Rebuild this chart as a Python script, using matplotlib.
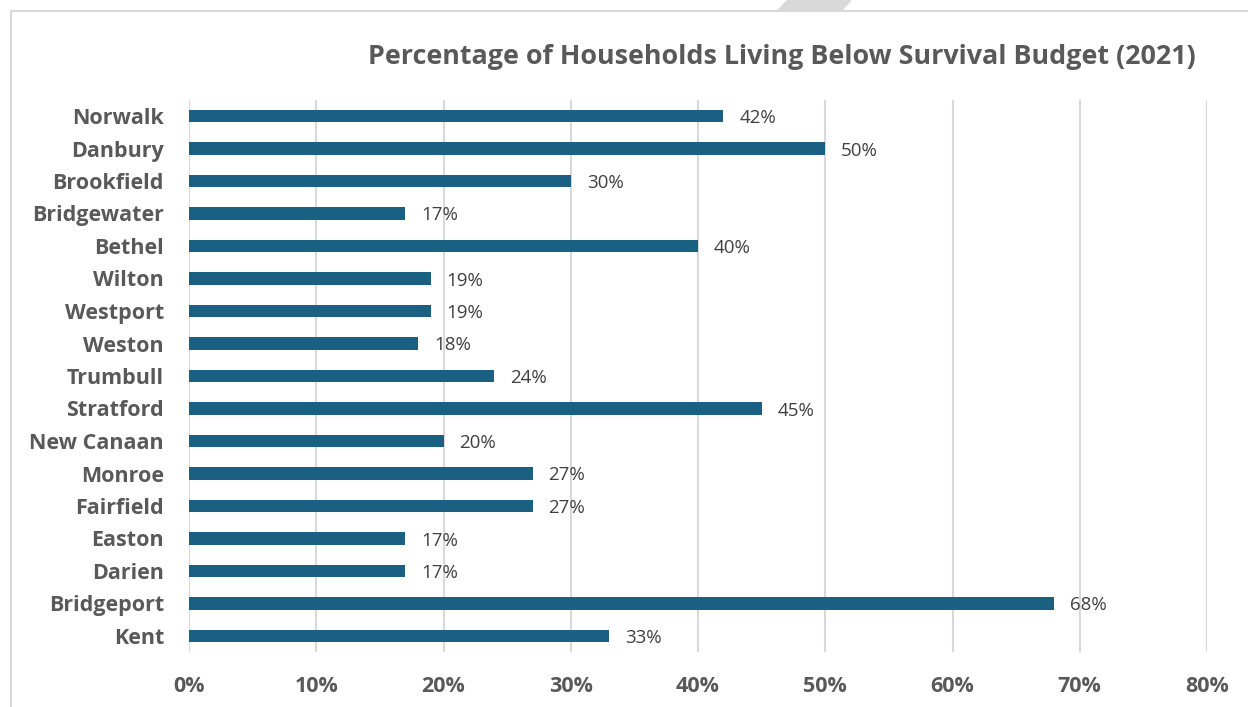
import matplotlib
matplotlib.use("Agg")
import matplotlib.pyplot as plt
from matplotlib.patches import Polygon, Rectangle
from matplotlib.ticker import FuncFormatter, MultipleLocator

towns = ["Norwalk", "Danbury", "Brookfield", "Bridgewater", "Bethel", "Wilton",
         "Westport", "Weston", "Trumbull", "Stratford", "New Canaan", "Monroe",
         "Fairfield", "Easton", "Darien", "Bridgeport", "Kent"]
pct = [42, 50, 30, 17, 40, 19, 19, 18, 24, 45, 20, 27, 27, 17, 17, 68, 33]
title = "Percentage of Households Living Below Survival Budget (2021)"

plt.rcParams['font.family'] = ['Open Sans', 'DejaVu Sans']
W, H = 1248, 707
fig = plt.figure(figsize=(W / 100, H / 100), dpi=100)

# border and top decoration
fig.patches.append(Rectangle((11 / W, -0.1), 1.2, (H - 11) / H + 0.1,
                             transform=fig.transFigure, fill=False,
                             edgecolor='#d9d9d9', linewidth=1.5))
fig.patches.append(Polygon([(787 / W, 1), (852 / W, 1), (842 / W, 1 - 11 / H), (776 / W, 1 - 11 / H)],
                           closed=True, transform=fig.transFigure,
                           facecolor='#d9d9d9', edgecolor='none'))

ax = fig.add_axes([189 / W, 54.75 / H, 1018 / W, 552.5 / H])
y = list(range(len(towns)))
ax.barh(y, pct, height=0.37, color='#1a6082', zorder=3)
for yi, v in zip(y, pct):
    ax.annotate(f"{v}%", (v, yi), xytext=(11.5, 0), textcoords='offset points',
                va='center_baseline', ha='left', fontsize=13.5, color='#404040')

ax.set_xlim(0, 80)
ax.set_ylim(len(towns) - 0.5, -0.5)
ax.xaxis.set_major_locator(MultipleLocator(10))
ax.xaxis.set_major_formatter(FuncFormatter(lambda v, p: f"{int(round(v))}%"))
ax.set_yticks(y)
ax.set_yticklabels(towns)
for s in ax.spines.values():
    s.set_visible(False)
ax.grid(axis='x', color='#d9d9d9', linewidth=1.5, zorder=0)
ax.tick_params(axis='both', length=0, colors='#595959', labelsize=15.5)
ax.tick_params(axis='x', pad=17)
ax.tick_params(axis='y', pad=18)
for lab in ax.get_xticklabels() + ax.get_yticklabels():
    lab.set_fontweight('bold')

fig.text(782 / W, 1 - 57 / H, title, ha='center', va='center',
         fontsize=19.4, fontweight='bold', color='#595959')

fig.savefig("out.png", dpi=100)
